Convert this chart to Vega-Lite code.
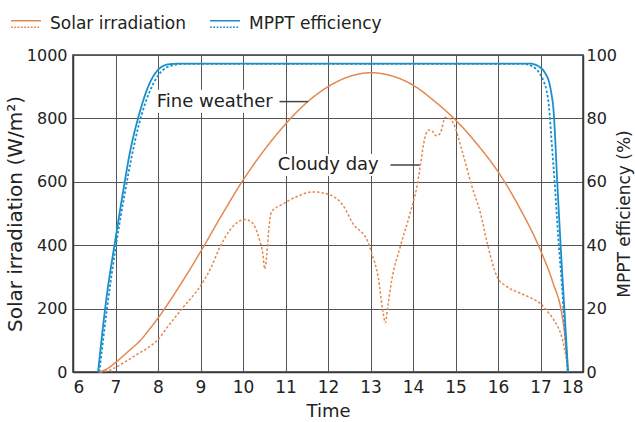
{
  "$schema": "https://vega.github.io/schema/vega-lite/v6.json",
  "width": 510,
  "height": 317,
  "autosize": {"type": "none"},
  "padding": {"left": 73, "top": 55, "right": 52, "bottom": 50},
  "config": {
    "font": "DejaVu Sans",
    "view": {"stroke": "#3a3a3a", "strokeWidth": 1.5},
    "axis": {
      "domainColor": "#3a3a3a",
      "domainWidth": 1.5,
      "gridColor": "#555555",
      "gridWidth": 1,
      "ticks": false,
      "labelColor": "#222222",
      "titleColor": "#222222",
      "labelFontSize": 16,
      "titleFontSize": 20,
      "titleFontWeight": "normal"
    }
  },
  "datasets": {
    "lines": [
      {"quantity": "Solar irradiation", "day": "Fine weather", "t": 6.6, "v": 0},
      {"quantity": "Solar irradiation", "day": "Fine weather", "t": 6.8, "v": 10},
      {"quantity": "Solar irradiation", "day": "Fine weather", "t": 7.0, "v": 30},
      {"quantity": "Solar irradiation", "day": "Fine weather", "t": 7.3, "v": 65},
      {"quantity": "Solar irradiation", "day": "Fine weather", "t": 7.6, "v": 102},
      {"quantity": "Solar irradiation", "day": "Fine weather", "t": 7.8, "v": 135},
      {"quantity": "Solar irradiation", "day": "Fine weather", "t": 8.0, "v": 170},
      {"quantity": "Solar irradiation", "day": "Fine weather", "t": 8.5, "v": 270},
      {"quantity": "Solar irradiation", "day": "Fine weather", "t": 9.0, "v": 379},
      {"quantity": "Solar irradiation", "day": "Fine weather", "t": 9.5, "v": 495},
      {"quantity": "Solar irradiation", "day": "Fine weather", "t": 10.0, "v": 605},
      {"quantity": "Solar irradiation", "day": "Fine weather", "t": 10.5, "v": 700},
      {"quantity": "Solar irradiation", "day": "Fine weather", "t": 11.0, "v": 782},
      {"quantity": "Solar irradiation", "day": "Fine weather", "t": 11.5, "v": 850},
      {"quantity": "Solar irradiation", "day": "Fine weather", "t": 12.0, "v": 900},
      {"quantity": "Solar irradiation", "day": "Fine weather", "t": 12.5, "v": 932},
      {"quantity": "Solar irradiation", "day": "Fine weather", "t": 13.0, "v": 944},
      {"quantity": "Solar irradiation", "day": "Fine weather", "t": 13.5, "v": 934},
      {"quantity": "Solar irradiation", "day": "Fine weather", "t": 14.0, "v": 905},
      {"quantity": "Solar irradiation", "day": "Fine weather", "t": 14.5, "v": 855},
      {"quantity": "Solar irradiation", "day": "Fine weather", "t": 15.0, "v": 795},
      {"quantity": "Solar irradiation", "day": "Fine weather", "t": 15.5, "v": 720},
      {"quantity": "Solar irradiation", "day": "Fine weather", "t": 16.0, "v": 632},
      {"quantity": "Solar irradiation", "day": "Fine weather", "t": 16.5, "v": 520},
      {"quantity": "Solar irradiation", "day": "Fine weather", "t": 17.0, "v": 384},
      {"quantity": "Solar irradiation", "day": "Fine weather", "t": 17.3, "v": 279},
      {"quantity": "Solar irradiation", "day": "Fine weather", "t": 17.5, "v": 184},
      {"quantity": "Solar irradiation", "day": "Fine weather", "t": 17.58, "v": 105},
      {"quantity": "Solar irradiation", "day": "Fine weather", "t": 17.62, "v": 40},
      {"quantity": "Solar irradiation", "day": "Fine weather", "t": 17.64, "v": 0},

      {"quantity": "Solar irradiation", "day": "Cloudy day", "t": 6.64, "v": 0},
      {"quantity": "Solar irradiation", "day": "Cloudy day", "t": 6.9, "v": 8},
      {"quantity": "Solar irradiation", "day": "Cloudy day", "t": 7.2, "v": 30},
      {"quantity": "Solar irradiation", "day": "Cloudy day", "t": 7.5, "v": 55},
      {"quantity": "Solar irradiation", "day": "Cloudy day", "t": 7.8, "v": 80},
      {"quantity": "Solar irradiation", "day": "Cloudy day", "t": 8.0, "v": 102},
      {"quantity": "Solar irradiation", "day": "Cloudy day", "t": 8.2, "v": 138},
      {"quantity": "Solar irradiation", "day": "Cloudy day", "t": 8.6, "v": 205},
      {"quantity": "Solar irradiation", "day": "Cloudy day", "t": 9.0, "v": 272},
      {"quantity": "Solar irradiation", "day": "Cloudy day", "t": 9.25, "v": 330},
      {"quantity": "Solar irradiation", "day": "Cloudy day", "t": 9.45, "v": 392},
      {"quantity": "Solar irradiation", "day": "Cloudy day", "t": 9.69, "v": 447},
      {"quantity": "Solar irradiation", "day": "Cloudy day", "t": 9.85, "v": 470},
      {"quantity": "Solar irradiation", "day": "Cloudy day", "t": 10.04, "v": 481},
      {"quantity": "Solar irradiation", "day": "Cloudy day", "t": 10.18, "v": 475},
      {"quantity": "Solar irradiation", "day": "Cloudy day", "t": 10.28, "v": 458},
      {"quantity": "Solar irradiation", "day": "Cloudy day", "t": 10.39, "v": 416},
      {"quantity": "Solar irradiation", "day": "Cloudy day", "t": 10.47, "v": 370},
      {"quantity": "Solar irradiation", "day": "Cloudy day", "t": 10.51, "v": 325},
      {"quantity": "Solar irradiation", "day": "Cloudy day", "t": 10.56, "v": 370},
      {"quantity": "Solar irradiation", "day": "Cloudy day", "t": 10.6, "v": 440},
      {"quantity": "Solar irradiation", "day": "Cloudy day", "t": 10.67, "v": 505},
      {"quantity": "Solar irradiation", "day": "Cloudy day", "t": 10.94, "v": 530},
      {"quantity": "Solar irradiation", "day": "Cloudy day", "t": 11.26, "v": 553},
      {"quantity": "Solar irradiation", "day": "Cloudy day", "t": 11.65, "v": 568},
      {"quantity": "Solar irradiation", "day": "Cloudy day", "t": 12.0, "v": 561},
      {"quantity": "Solar irradiation", "day": "Cloudy day", "t": 12.35, "v": 526},
      {"quantity": "Solar irradiation", "day": "Cloudy day", "t": 12.59, "v": 468},
      {"quantity": "Solar irradiation", "day": "Cloudy day", "t": 12.94, "v": 410},
      {"quantity": "Solar irradiation", "day": "Cloudy day", "t": 13.03, "v": 374},
      {"quantity": "Solar irradiation", "day": "Cloudy day", "t": 13.18, "v": 300},
      {"quantity": "Solar irradiation", "day": "Cloudy day", "t": 13.3, "v": 184},
      {"quantity": "Solar irradiation", "day": "Cloudy day", "t": 13.35, "v": 155},
      {"quantity": "Solar irradiation", "day": "Cloudy day", "t": 13.4, "v": 200},
      {"quantity": "Solar irradiation", "day": "Cloudy day", "t": 13.5, "v": 290},
      {"quantity": "Solar irradiation", "day": "Cloudy day", "t": 13.7, "v": 395},
      {"quantity": "Solar irradiation", "day": "Cloudy day", "t": 13.93, "v": 500},
      {"quantity": "Solar irradiation", "day": "Cloudy day", "t": 14.09, "v": 584},
      {"quantity": "Solar irradiation", "day": "Cloudy day", "t": 14.17, "v": 647},
      {"quantity": "Solar irradiation", "day": "Cloudy day", "t": 14.25, "v": 720},
      {"quantity": "Solar irradiation", "day": "Cloudy day", "t": 14.36, "v": 763},
      {"quantity": "Solar irradiation", "day": "Cloudy day", "t": 14.45, "v": 760},
      {"quantity": "Solar irradiation", "day": "Cloudy day", "t": 14.55, "v": 745},
      {"quantity": "Solar irradiation", "day": "Cloudy day", "t": 14.64, "v": 753},
      {"quantity": "Solar irradiation", "day": "Cloudy day", "t": 14.76, "v": 803},
      {"quantity": "Solar irradiation", "day": "Cloudy day", "t": 14.85, "v": 800},
      {"quantity": "Solar irradiation", "day": "Cloudy day", "t": 14.95, "v": 785},
      {"quantity": "Solar irradiation", "day": "Cloudy day", "t": 15.15, "v": 700},
      {"quantity": "Solar irradiation", "day": "Cloudy day", "t": 15.39, "v": 584},
      {"quantity": "Solar irradiation", "day": "Cloudy day", "t": 15.59, "v": 500},
      {"quantity": "Solar irradiation", "day": "Cloudy day", "t": 15.75, "v": 405},
      {"quantity": "Solar irradiation", "day": "Cloudy day", "t": 15.98, "v": 300},
      {"quantity": "Solar irradiation", "day": "Cloudy day", "t": 16.2, "v": 270},
      {"quantity": "Solar irradiation", "day": "Cloudy day", "t": 16.5, "v": 250},
      {"quantity": "Solar irradiation", "day": "Cloudy day", "t": 16.8, "v": 232},
      {"quantity": "Solar irradiation", "day": "Cloudy day", "t": 17.0, "v": 216},
      {"quantity": "Solar irradiation", "day": "Cloudy day", "t": 17.2, "v": 185},
      {"quantity": "Solar irradiation", "day": "Cloudy day", "t": 17.32, "v": 163},
      {"quantity": "Solar irradiation", "day": "Cloudy day", "t": 17.52, "v": 100},
      {"quantity": "Solar irradiation", "day": "Cloudy day", "t": 17.64, "v": 16},
      {"quantity": "Solar irradiation", "day": "Cloudy day", "t": 17.66, "v": 0},

      {"quantity": "MPPT efficiency", "day": "Fine weather", "t": 6.59, "v": 0},
      {"quantity": "MPPT efficiency", "day": "Fine weather", "t": 6.78, "v": 22.6},
      {"quantity": "MPPT efficiency", "day": "Fine weather", "t": 7.0, "v": 42},
      {"quantity": "MPPT efficiency", "day": "Fine weather", "t": 7.18, "v": 57},
      {"quantity": "MPPT efficiency", "day": "Fine weather", "t": 7.35, "v": 70},
      {"quantity": "MPPT efficiency", "day": "Fine weather", "t": 7.53, "v": 80},
      {"quantity": "MPPT efficiency", "day": "Fine weather", "t": 7.8, "v": 91},
      {"quantity": "MPPT efficiency", "day": "Fine weather", "t": 8.04, "v": 95.8},
      {"quantity": "MPPT efficiency", "day": "Fine weather", "t": 8.27, "v": 97.1},
      {"quantity": "MPPT efficiency", "day": "Fine weather", "t": 8.6, "v": 97.3},
      {"quantity": "MPPT efficiency", "day": "Fine weather", "t": 12.0, "v": 97.3},
      {"quantity": "MPPT efficiency", "day": "Fine weather", "t": 16.75, "v": 97.3},
      {"quantity": "MPPT efficiency", "day": "Fine weather", "t": 16.98, "v": 96.2},
      {"quantity": "MPPT efficiency", "day": "Fine weather", "t": 17.1, "v": 94.5},
      {"quantity": "MPPT efficiency", "day": "Fine weather", "t": 17.21, "v": 91},
      {"quantity": "MPPT efficiency", "day": "Fine weather", "t": 17.26, "v": 87.5},
      {"quantity": "MPPT efficiency", "day": "Fine weather", "t": 17.3, "v": 83.6},
      {"quantity": "MPPT efficiency", "day": "Fine weather", "t": 17.4, "v": 58.4},
      {"quantity": "MPPT efficiency", "day": "Fine weather", "t": 17.48, "v": 38.4},
      {"quantity": "MPPT efficiency", "day": "Fine weather", "t": 17.57, "v": 18},
      {"quantity": "MPPT efficiency", "day": "Fine weather", "t": 17.65, "v": 0},

      {"quantity": "MPPT efficiency", "day": "Cloudy day", "t": 6.62, "v": 0},
      {"quantity": "MPPT efficiency", "day": "Cloudy day", "t": 6.8, "v": 20},
      {"quantity": "MPPT efficiency", "day": "Cloudy day", "t": 7.0, "v": 39},
      {"quantity": "MPPT efficiency", "day": "Cloudy day", "t": 7.2, "v": 55},
      {"quantity": "MPPT efficiency", "day": "Cloudy day", "t": 7.55, "v": 78},
      {"quantity": "MPPT efficiency", "day": "Cloudy day", "t": 7.82, "v": 89},
      {"quantity": "MPPT efficiency", "day": "Cloudy day", "t": 8.06, "v": 94.5},
      {"quantity": "MPPT efficiency", "day": "Cloudy day", "t": 8.3, "v": 96.6},
      {"quantity": "MPPT efficiency", "day": "Cloudy day", "t": 8.6, "v": 97.2},
      {"quantity": "MPPT efficiency", "day": "Cloudy day", "t": 12.0, "v": 97.2},
      {"quantity": "MPPT efficiency", "day": "Cloudy day", "t": 16.59, "v": 97.2},
      {"quantity": "MPPT efficiency", "day": "Cloudy day", "t": 16.8, "v": 96.5},
      {"quantity": "MPPT efficiency", "day": "Cloudy day", "t": 16.98, "v": 94.2},
      {"quantity": "MPPT efficiency", "day": "Cloudy day", "t": 17.08, "v": 91.5},
      {"quantity": "MPPT efficiency", "day": "Cloudy day", "t": 17.14, "v": 88.9},
      {"quantity": "MPPT efficiency", "day": "Cloudy day", "t": 17.2, "v": 83.7},
      {"quantity": "MPPT efficiency", "day": "Cloudy day", "t": 17.26, "v": 73},
      {"quantity": "MPPT efficiency", "day": "Cloudy day", "t": 17.34, "v": 58.4},
      {"quantity": "MPPT efficiency", "day": "Cloudy day", "t": 17.42, "v": 42},
      {"quantity": "MPPT efficiency", "day": "Cloudy day", "t": 17.5, "v": 28},
      {"quantity": "MPPT efficiency", "day": "Cloudy day", "t": 17.57, "v": 14},
      {"quantity": "MPPT efficiency", "day": "Cloudy day", "t": 17.64, "v": 0}
    ]
  },
  "layer": [
    {
      "layer": [
        {
          "data": {"name": "lines"},
          "transform": [{"filter": "datum.quantity === 'Solar irradiation'"}],
          "mark": {"type": "line", "interpolate": "monotone", "strokeWidth": 1.5},
          "encoding": {
            "x": {
              "field": "t", "type": "quantitative",
              "scale": {"domain": [6, 18], "nice": false, "zero": false},
              "axis": {"values": [6, 7, 8, 9, 10, 11, 12, 13, 14, 15, 16, 17, 18], "title": "Time", "labelPadding": 7, "titlePadding": 7, "titleFontSize": 18, "labelFontSize": 17}
            },
            "y": {
              "field": "v", "type": "quantitative",
              "scale": {"domain": [0, 1000], "nice": false},
              "axis": {
                "values": [0, 100, 200, 300, 400, 500, 600, 700, 800, 900, 1000],
                "labelExpr": "datum.value % 200 === 0 ? datum.label : ''",
                "format": "d",
                "title": "Solar irradiation (W/m²)",
                "labelPadding": 6,
                "titlePadding": 1,
                "titleFontSize": 20
              }
            },
            "color": {
              "field": "quantity", "type": "nominal",
              "scale": {"domain": ["Solar irradiation", "MPPT efficiency"], "range": ["#e3894f", "#1b8fcc"]},
              "legend": {
                "title": null,
                "orient": "none",
                "legendX": -63,
                "legendY": -47,
                "direction": "horizontal",
                "padding": 0,
                "labelFontSize": 17,
                "labelColor": "#222222",
                "labelOffset": 8,
                "columnPadding": 20,
                "symbolSize": 900,
                "symbolStrokeWidth": 1.5,
                "symbolType": "M-1,-0.22H1M-1,0.22H-0.88M-0.78,0.22H-0.66M-0.56,0.22H-0.44M-0.34,0.22H-0.22M-0.12,0.22H0M0.1,0.22H0.22M0.32,0.22H0.44M0.54,0.22H0.66M0.76,0.22H0.88"
              }
            },
            "strokeDash": {
              "field": "day", "type": "nominal",
              "scale": {"domain": ["Fine weather", "Cloudy day"], "range": [[1, 0], [2.5, 2]]},
              "legend": null
            }
          }
        },
        {
          "data": {"values": [{}]},
          "mark": {"type": "rect", "fill": "white"},
          "encoding": {"x": {"datum": 7.93}, "x2": {"datum": 10.77}, "y": {"datum": 890}, "y2": {"datum": 818}}
        },
        {
          "data": {"values": [{}]},
          "mark": {"type": "rect", "fill": "white"},
          "encoding": {"x": {"datum": 10.76}, "x2": {"datum": 13.38}, "y": {"datum": 688}, "y2": {"datum": 618}}
        },
        {
          "data": {"values": [{}]},
          "mark": {"type": "rule", "stroke": "#444444", "strokeWidth": 1.5},
          "encoding": {"x": {"datum": 10.86}, "x2": {"datum": 11.53}, "y": {"datum": 853}}
        },
        {
          "data": {"values": [{}]},
          "mark": {"type": "rule", "stroke": "#444444", "strokeWidth": 1.5},
          "encoding": {"x": {"datum": 13.47}, "x2": {"datum": 14.16}, "y": {"datum": 653}}
        },
        {
          "data": {"values": [{}]},
          "mark": {"type": "text", "align": "left", "baseline": "middle", "fontSize": 18, "color": "#222222"},
          "encoding": {"x": {"datum": 7.97}, "y": {"datum": 853}, "text": {"value": "Fine weather"}}
        },
        {
          "data": {"values": [{}]},
          "mark": {"type": "text", "align": "left", "baseline": "middle", "fontSize": 18, "color": "#222222"},
          "encoding": {"x": {"datum": 10.82}, "y": {"datum": 653}, "text": {"value": "Cloudy day"}}
        }
      ]
    },
    {
      "data": {"name": "lines"},
      "transform": [{"filter": "datum.quantity === 'MPPT efficiency'"}],
      "mark": {"type": "line", "interpolate": "monotone", "strokeWidth": 1.8},
      "encoding": {
        "x": {"field": "t", "type": "quantitative"},
        "y": {
          "field": "v", "type": "quantitative",
          "scale": {"domain": [0, 100], "nice": false},
          "axis": {
            "orient": "right",
            "values": [0, 20, 40, 60, 80, 100],
            "grid": false,
            "title": "MPPT efficiency (%)",
            "titleAngle": 270,
            "titleBaseline": "top",
            "labelPadding": 3,
            "titlePadding": 0,
            "titleFontSize": 17
          }
        },
        "color": {"field": "quantity", "type": "nominal"},
        "strokeDash": {"field": "day", "type": "nominal", "legend": null}
      }
    }
  ],
  "resolve": {"scale": {"y": "independent"}}
}
